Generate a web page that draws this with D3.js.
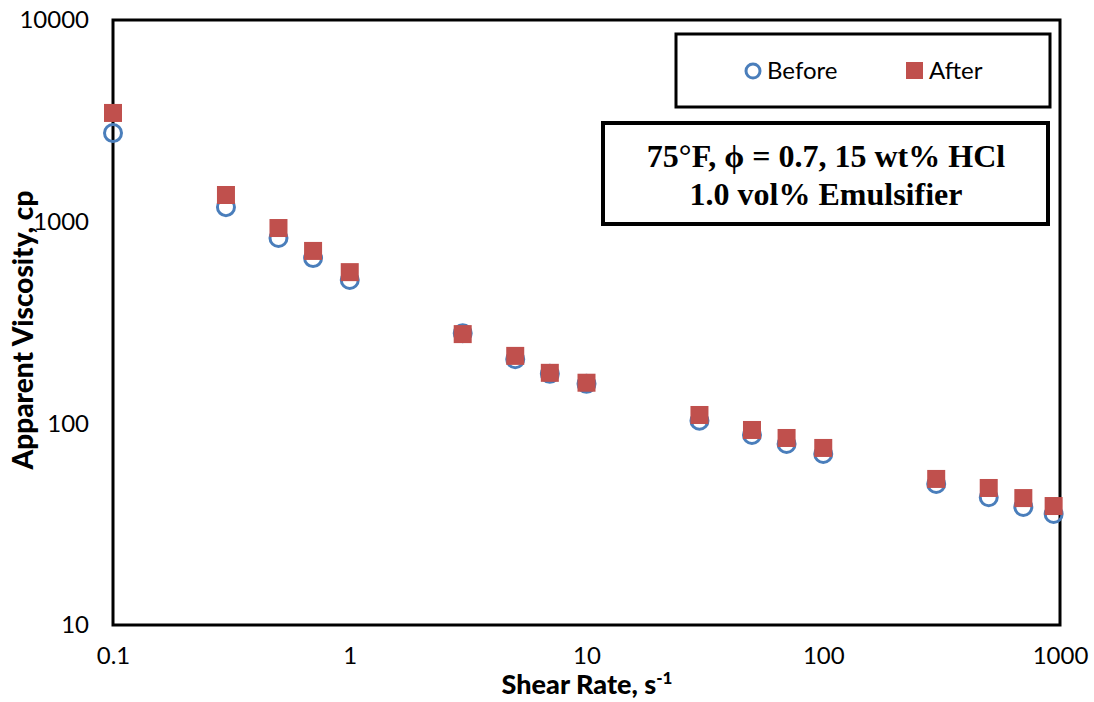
<!DOCTYPE html>
<html>
<head>
    <title>Apparent Viscosity vs Shear Rate</title>
    <script src="https://cdnjs.cloudflare.com/ajax/libs/d3/7.8.5/d3.min.js"></script>
    <style>
        body { margin: 0; background: white; }
        svg { display: block; }
    </style>
</head>
<body>
    <div id="chart"></div>
    <script>
        // Data
        const shearRates = [0.1, 0.3, 0.5, 0.7, 1, 3, 5, 7, 10, 30, 50, 70, 100, 300, 500, 700, 940];
        const before = [2750, 1180, 830, 660, 514, 280, 208, 176, 157, 103, 87.5, 79, 70.5, 50, 43, 38.5, 35.5];
        const after = [3460, 1356, 930, 716, 562, 277, 216, 178, 159, 110, 92.7, 84.6, 75.5, 53, 47.8, 42.6, 38.9];
        const xTicks = [0.1, 1, 10, 100, 1000];
        const yTicks = [10, 100, 1000, 10000];

        const width = 1094, height = 702;
        const margin = { top: 20, right: 34, bottom: 77, left: 113 };

        const svg = d3.select("#chart").append("svg")
            .attr("width", width)
            .attr("height", height);

        const x = d3.scaleLog().domain([0.1, 1000]).range([margin.left, width - margin.right]);
        const y = d3.scaleLog().domain([10, 10000]).range([height - margin.bottom, margin.top]);

        const font = "Lato, 'Open Sans', sans-serif";

        // Axes (labels only, no tick marks)
        const xAxis = svg.append("g")
            .attr("transform", `translate(0,${height - margin.bottom})`)
            .call(d3.axisBottom(x).tickValues(xTicks).tickFormat(d => d3.format("~g")(d)).tickSize(0).tickPadding(22));
        const yAxis = svg.append("g")
            .attr("transform", `translate(${margin.left},0)`)
            .call(d3.axisLeft(y).tickValues(yTicks).tickFormat(d => d3.format("d")(d)).tickSize(0).tickPadding(24));
        [xAxis, yAxis].forEach(g => {
            g.select(".domain").remove();
            g.selectAll("text").attr("font-family", font).attr("font-size", 24).attr("fill", "#000");
        });

        // Plot frame
        svg.append("rect")
            .attr("x", margin.left)
            .attr("y", margin.top)
            .attr("width", width - margin.left - margin.right)
            .attr("height", height - margin.top - margin.bottom)
            .attr("fill", "none")
            .attr("stroke", "#000")
            .attr("stroke-width", 3);

        // Before: hollow circles
        svg.append("g").selectAll("circle")
            .data(shearRates.map((s, i) => [s, before[i]]))
            .join("circle")
            .attr("cx", d => x(d[0]))
            .attr("cy", d => y(d[1]))
            .attr("r", 8.5)
            .attr("fill", "none")
            .attr("stroke", "#4a7ebb")
            .attr("stroke-width", 3);

        // After: filled squares
        const sq = 18;
        svg.append("g").selectAll("rect")
            .data(shearRates.map((s, i) => [s, after[i]]))
            .join("rect")
            .attr("x", d => x(d[0]) - sq / 2)
            .attr("y", d => y(d[1]) - sq / 2)
            .attr("width", sq)
            .attr("height", sq)
            .attr("fill", "#c0504d");

        // Axis titles
        const xt = svg.append("text")
            .attr("x", 587)
            .attr("y", 694)
            .attr("text-anchor", "middle")
            .attr("font-family", font)
            .attr("font-weight", "900")
            .attr("font-size", 27);
        xt.append("tspan").text("Shear Rate, s");
        xt.append("tspan").attr("font-size", 17).attr("dy", -10).text("-1");

        svg.append("text")
            .attr("transform", "translate(33,330) rotate(-90)")
            .attr("text-anchor", "middle")
            .attr("font-family", font)
            .attr("font-weight", "900")
            .attr("font-size", 28)
            .text("Apparent Viscosity, cp");

        // Legend box
        svg.append("rect")
            .attr("x", 676).attr("y", 34).attr("width", 374).attr("height", 73)
            .attr("fill", "white").attr("stroke", "#000").attr("stroke-width", 3);
        svg.append("circle")
            .attr("cx", 753).attr("cy", 71).attr("r", 7)
            .attr("fill", "none").attr("stroke", "#4a7ebb").attr("stroke-width", 3);
        svg.append("text")
            .attr("x", 767).attr("y", 79)
            .attr("font-family", font).attr("font-size", 24)
            .text("Before");
        svg.append("rect")
            .attr("x", 906).attr("y", 62).attr("width", 17).attr("height", 17)
            .attr("fill", "#c0504d");
        svg.append("text")
            .attr("x", 929).attr("y", 79)
            .attr("font-family", font).attr("font-size", 24)
            .text("After");

        // Condition annotation box
        svg.append("rect")
            .attr("x", 603).attr("y", 123).attr("width", 445).attr("height", 101)
            .attr("fill", "white").attr("stroke", "#000").attr("stroke-width", 4);
        const note = svg.append("text")
            .attr("text-anchor", "middle")
            .attr("font-family", "'Liberation Serif', 'Times New Roman', serif")
            .attr("font-weight", "bold")
            .attr("font-size", 32);
        note.append("tspan").attr("x", 826).attr("y", 167).text("75°F, ϕ = 0.7, 15 wt% HCl");
        note.append("tspan").attr("x", 826).attr("y", 205).text("1.0 vol% Emulsifier");
    </script>
</body>
</html>
